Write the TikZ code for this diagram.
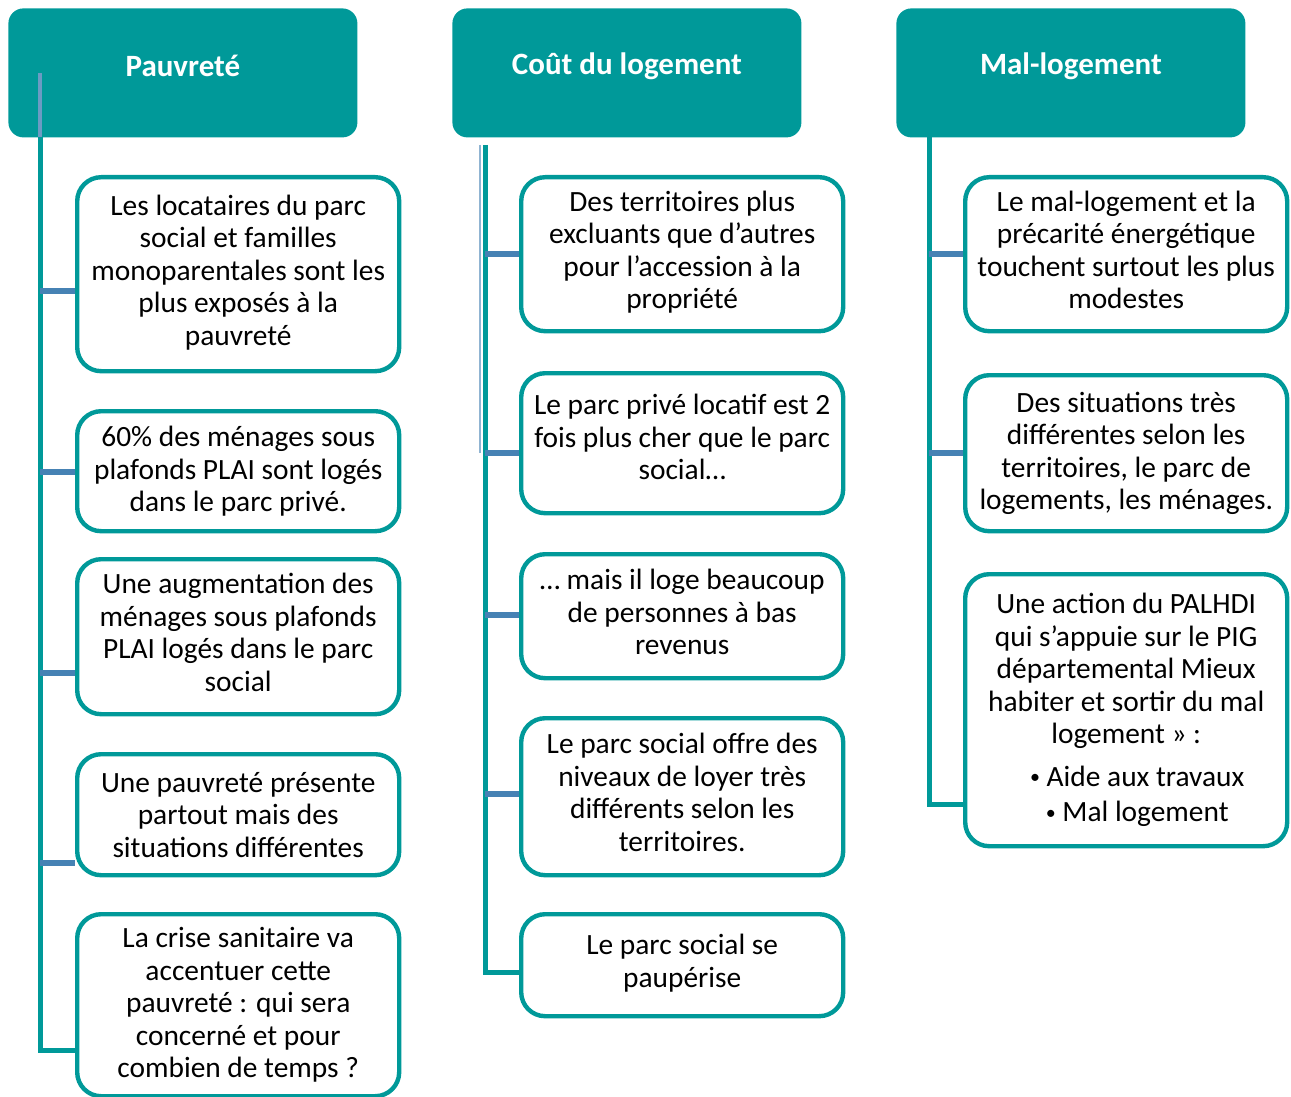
\documentclass[tikz,border=0pt]{standalone}
\usepackage{fontspec}
\setmainfont{Carlito}
\usetikzlibrary{calc}
\definecolor{tealfill}{RGB}{0,153,153}
\definecolor{stubblue}{RGB}{70,130,180}
\newcommand{\smallbullet}{\raisebox{1.3pt}{\fontsize{10}{10}\selectfont•}}

\begin{document}
\begin{tikzpicture}[x=0.5pt,y=-0.5pt,
  font=\fontsize{14.7}{16.25}\selectfont,
  header/.style={fill=tealfill,rounded corners=7.5pt,anchor=north west,inner sep=0pt,
    minimum width=174.5pt,minimum height=64.5pt},
  headtext/.style={text=white,font=\bfseries\fontsize{15.5}{18}\selectfont,yshift=3.5pt},
  box/.style={draw=tealfill,line width=2.2pt,rounded corners=12pt,fill=white,align=center,
    anchor=north west,inner sep=0pt,minimum width=161pt},
  trunk/.style={draw=tealfill,line width=2.5pt},
  stub/.style={draw=stubblue,line width=2.8pt}]
\useasboundingbox (0,0) rectangle (1291,1097);

\node[header] (pauv) at (8,8) {};
\node[headtext] at ($(pauv.center)$) {Pauvreté};
\node[header] (cout) at (452,8) {};
\node[headtext] at ($(cout.center)$) {Coût du logement};
\node[header] (mal) at (896,8) {};
\node[headtext] at ($(mal.center)$) {Mal-logement};

\coordinate (pauvin) at (40,73);
\coordinate (pauvtop) at (40,137);
\coordinate (pauvend) at (40,1050);
\coordinate (couttop) at (485,145);
\coordinate (coutend) at (485,972);
\coordinate (maltop) at (929,137);
\coordinate (malend) at (929,804);

\node[box,minimum height=97pt] (pauv1) at (75,175)
  {Les locataires du parc\\social et familles\\monoparentales sont les\\plus exposés à la\\pauvreté\\[-12pt]};
\node[box,minimum height=60pt] (pauv2) at (75,409)
  {60\% des ménages sous\\plafonds PLAI sont logés\\dans le parc privé.};
\node[box,minimum height=77.5pt] (pauv3) at (75,557)
  {Une augmentation des\\ménages sous plafonds\\PLAI logés dans le parc\\social\\[-12pt]};
\node[box,minimum height=60.5pt] (pauv4) at (75,752)
  {Une pauvreté présente\\partout mais des\\situations différentes};
\node[box,minimum height=91pt] (pauv5) at (75,912)
  {La crise sanitaire va\\accentuer cette\\pauvreté : qui sera\\concerné et pour\\combien de temps ?};

\node[box,minimum height=77pt] (cout1) at (519,175)
  {Des territoires plus\\excluants que d’autres\\pour l’accession à la\\propriété\\[-12pt]};
\node[box,minimum height=70pt] (cout2) at (519,371)
  {Le parc privé locatif est 2\\fois plus cher que le parc\\social…\\[-10pt]};
\node[box,minimum height=62pt] (cout3) at (519,552)
  {… mais il loge beaucoup\\de personnes à bas\\revenus\\[-12pt]};
\node[box,minimum height=78.5pt] (cout4) at (519,716)
  {Le parc social offre des\\niveaux de loyer très\\différents selon les\\territoires.\\[-12pt]};
\node[box,minimum height=51pt] (cout5) at (519,912)
  {Le parc social se\\paupérise\\[-12pt]};

\node[box,minimum height=77pt] (mal1) at (963,175)
  {Le mal-logement et la\\précarité énergétique\\touchent surtout les plus\\modestes\\[-12pt]};
\node[box,minimum height=78pt] (mal2) at (963,373)
  {Des situations très\\différentes selon les\\territoires, le parc de\\logements, les ménages.};
\node[box,minimum height=136pt] (mal3) at (963,572)
  {Une action du PALHDI\\qui s’appuie sur le PIG\\départemental Mieux\\habiter et sortir du mal\\logement » :\\[5pt]
   \hspace*{11pt}\smallbullet{} Aide aux travaux\\[1.5pt]\hspace*{11pt}\smallbullet{} Mal logement};

\draw[draw=stubblue!80,line width=1.8pt] (pauvin) -- (pauvtop);
\draw[draw=stubblue!60,line width=1pt] ($(couttop)+(-5,0)$) -- ($(couttop)+(-5,308)$);
\draw[trunk] (pauvtop) -- (pauvend) -- (pauvend -| pauv5.west);
\draw[trunk] (couttop) -- (coutend) -- (coutend -| cout5.west);
\draw[trunk] (maltop) -- (malend) -- (malend -| mal3.west);

\coordinate (p1) at (40,291);
\coordinate (p2) at (40,472);
\coordinate (p3) at (40,673);
\coordinate (p4) at (40,863);
\draw[stub] (p1) -- (p1 -| pauv1.west);
\draw[stub] (p2) -- (p2 -| pauv2.west);
\draw[stub] (p3) -- (p3 -| pauv3.west);
\draw[stub] (p4) -- (p4 -| pauv4.west);
\coordinate (c1) at (485,254);
\coordinate (c2) at (485,453);
\coordinate (c3) at (485,615);
\coordinate (c4) at (485,794);
\draw[stub] (c1) -- (c1 -| cout1.west);
\draw[stub] (c2) -- (c2 -| cout2.west);
\draw[stub] (c3) -- (c3 -| cout3.west);
\draw[stub] (c4) -- (c4 -| cout4.west);
\coordinate (m1) at (929,254);
\coordinate (m2) at (929,453);
\draw[stub] (m1) -- (m1 -| mal1.west);
\draw[stub] (m2) -- (m2 -| mal2.west);
\end{tikzpicture}
\end{document}
